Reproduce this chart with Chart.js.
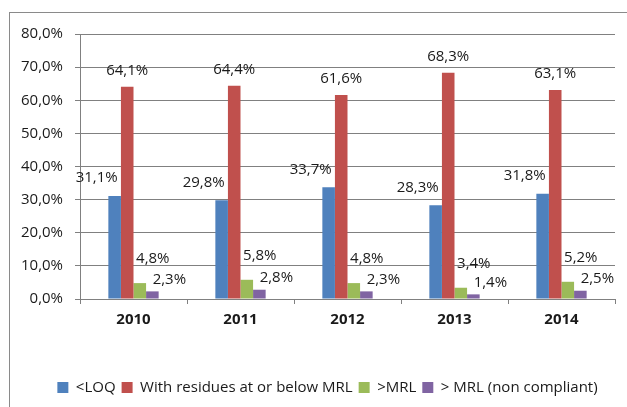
<!DOCTYPE html>
<html>
<head>
<meta charset="utf-8">
<script src="https://cdn.jsdelivr.net/npm/chart.js@4/dist/chart.umd.min.js"></script>
<style>
  html, body { margin: 0; padding: 0; background: #fff; }
  #frame {
    position: absolute; left: 9px; top: 12px;
    width: 700px; height: 500px;
    border: 1px solid #8a8a8a;
  }
  #chart { position: absolute; left: 0; top: 0; }
</style>
</head>
<body>
<div id="frame"></div>
<canvas id="chart" width="627" height="407"></canvas>
<script>
// categories and series (percent of samples)
const years = ["2010", "2011", "2012", "2013", "2014"];
const seriesNames = ["<LOQ", "With residues at or below MRL", ">MRL", "> MRL (non compliant)"];
const belowLoq = [31.1, 29.8, 33.7, 28.3, 31.8];
const atOrBelowMrl = [64.1, 64.4, 61.6, 68.3, 63.1];
const aboveMrl = [4.8, 5.8, 4.8, 3.4, 5.2];
const nonCompliant = [2.3, 2.8, 2.3, 1.4, 2.5];
const yTicks = [0, 10, 20, 30, 40, 50, 60, 70, 80];

const colors = ["#4F81BD", "#C0504D", "#9BBB59", "#8064A2"];
const fontFamily = "'Open Sans', 'Noto Sans', sans-serif";

function pct(v) {
  return v.toFixed(1).replace(".", ",") + "%";
}

// value labels, nudged sideways per series so they don't collide
const labelNudge = [
  { dx: -18, dy: -18 },
  { dx: 0, dy: -16 },
  { dx: 13, dy: -24 },
  { dx: 17, dy: -12 }
];

const valueLabels = {
  id: "valueLabels",
  afterDatasetsDraw(chart) {
    const ctx = chart.ctx;
    ctx.save();
    ctx.font = "15px " + fontFamily;
    ctx.fillStyle = "#1a1a1a";
    ctx.textAlign = "center";
    ctx.textBaseline = "middle";
    chart.data.datasets.forEach((ds, i) => {
      const meta = chart.getDatasetMeta(i);
      meta.data.forEach((bar, j) => {
        const n = labelNudge[i];
        ctx.fillText(pct(ds.data[j]), bar.x + n.dx, bar.y + n.dy);
      });
    });
    ctx.restore();
  }
};

// centre the legend row under the whole frame rather than the canvas
const legendShift = {
  id: "legendShift",
  afterLayout(chart) {
    chart.legend.left = 40;
  }
};

const seriesData = [belowLoq, atOrBelowMrl, aboveMrl, nonCompliant];

new Chart(document.getElementById("chart"), {
  type: "bar",
  data: {
    labels: years,
    datasets: seriesData.map((d, i) => ({
      label: seriesNames[i],
      data: d,
      backgroundColor: colors[i],
      categoryPercentage: 0.47,
      barPercentage: 1.0
    }))
  },
  options: {
    responsive: false,
    animation: false,
    devicePixelRatio: 1,
    layout: { padding: { top: 34, right: 12, bottom: 2, left: 0 } },
    plugins: {
      tooltip: { enabled: false },
      legend: {
        position: "bottom",
        labels: {
          boxWidth: 11,
          boxHeight: 11,
          padding: 6,
          color: "#1a1a1a",
          font: { size: 15, family: fontFamily }
        }
      }
    },
    scales: {
      y: {
        min: 0,
        max: 80,
        afterBuildTicks(scale) {
          scale.ticks = yTicks.map(v => ({ value: v }));
        },
        afterFit(scale) { scale.width = 80; },
        ticks: {
          padding: 12,
          color: "#1a1a1a",
          font: { size: 15, family: fontFamily },
          callback: v => pct(v)
        },
        grid: { color: "#808080", tickLength: 5 },
        border: { color: "#808080" }
      },
      x: {
        afterFit(scale) { scale.height = 75; },
        ticks: {
          padding: 7,
          color: "#1a1a1a",
          font: { size: 15, weight: "bold", family: fontFamily }
        },
        grid: { drawOnChartArea: false, color: "#808080", tickLength: 5, offset: true },
        border: { color: "#808080" }
      }
    }
  },
  plugins: [valueLabels, legendShift]
});
</script>
</body>
</html>
